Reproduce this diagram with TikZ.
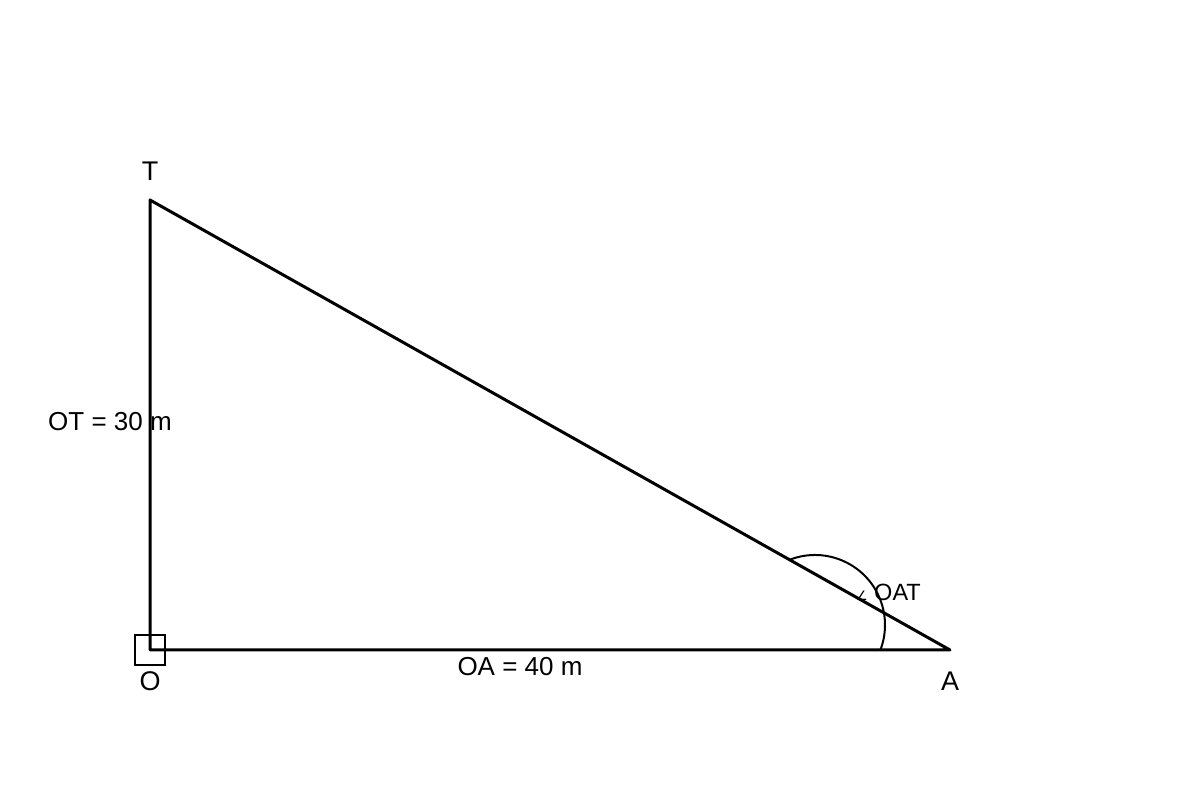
\documentclass[tikz,border=0pt]{standalone}
\usepackage{fontspec}
\setmainfont{Liberation Sans}
\newfontfamily\symfont{DejaVu Sans}
\begin{document}
\begin{tikzpicture}[x=1pt,y=1pt,
  edge/.style={line width=3pt,line cap=round,line join=round},
  thin line/.style={line width=2pt},
  lbl/.style={font=\fontsize{27}{31}\selectfont,inner sep=0pt},
  side/.style={font=\fontsize{26}{30}\selectfont,inner sep=0pt}]
\useasboundingbox (0,0) rectangle (1200,800);
\coordinate (O) at (150,150);
\coordinate (T) at (150,600);
\coordinate (A) at (950,150);
\draw[thin line] (135,135) rectangle (165,165);
\draw[edge] (O) -- (T) -- (A) -- cycle;
\draw[thin line] (815,175) ++(110.5:70) arc[start angle=110.5,end angle=-21,radius=70];
\node[lbl] (tT) at (150,629) {T};
\node[lbl] (tO) at (150,119) {O};
\node[lbl] (tA) at (950,119) {A};
\node[side] (ot) at (110,378) {OT = 30 m};
\node[side] (oa) at (520,133) {OA = 40 m};
\node[font=\fontsize{23.5}{27}\selectfont,inner sep=0pt] (oat) at (897.5,208) {OAT};
\node[font=\symfont\fontsize{13}{16}\selectfont,inner sep=0pt] (ang) at (862,204) {∠};
\end{tikzpicture}
\end{document}
